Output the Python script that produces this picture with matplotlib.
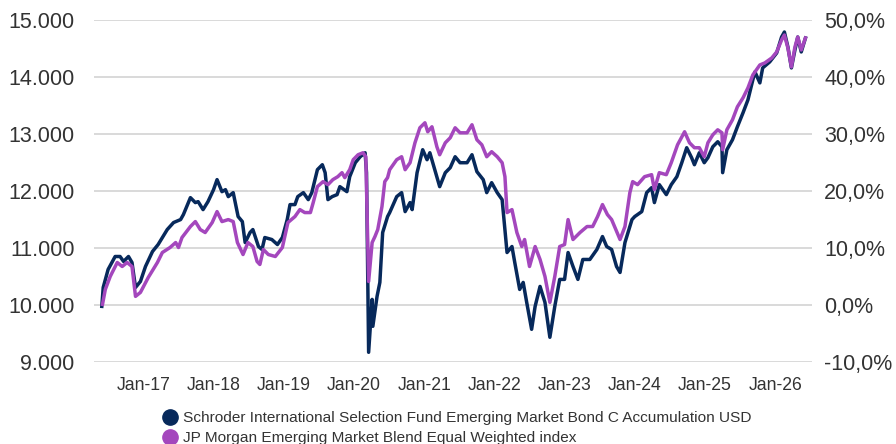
from datetime import datetime, timedelta

import matplotlib.pyplot as plt
import matplotlib.dates as mdates
from matplotlib.lines import Line2D
from matplotlib.ticker import FuncFormatter

# Schroder fund, growth of 10.000 (decimal years, values)
fund_t = [
    2016.41, 2016.43, 2016.50, 2016.60, 2016.67, 2016.72, 2016.79, 2016.84, 2016.89, 2016.96,
    2017.03, 2017.13, 2017.21, 2017.34, 2017.43, 2017.53, 2017.57, 2017.67, 2017.74, 2017.78,
    2017.85, 2017.92, 2018.00, 2018.05, 2018.12, 2018.17, 2018.21, 2018.28, 2018.35, 2018.41,
    2018.45, 2018.52, 2018.56, 2018.64, 2018.69, 2018.73, 2018.83, 2018.91, 2018.98, 2019.05,
    2019.09, 2019.16, 2019.20, 2019.28, 2019.35, 2019.40, 2019.48, 2019.55, 2019.59, 2019.63,
    2019.69, 2019.76, 2019.80, 2019.90, 2019.94, 2020.02, 2020.09, 2020.16, 2020.18, 2020.21,
    2020.26, 2020.27, 2020.33, 2020.37, 2020.41, 2020.48, 2020.51, 2020.61, 2020.68, 2020.73,
    2020.80, 2020.83, 2020.90, 2020.98, 2021.04, 2021.08, 2021.15, 2021.22, 2021.30, 2021.37,
    2021.44, 2021.51, 2021.61, 2021.68, 2021.75, 2021.84, 2021.89, 2021.96, 2022.04, 2022.11,
    2022.15, 2022.18, 2022.25, 2022.29, 2022.36, 2022.41, 2022.46, 2022.53, 2022.58, 2022.65,
    2022.72, 2022.79, 2022.86, 2022.93, 2023.00, 2023.05, 2023.12, 2023.19, 2023.26, 2023.36,
    2023.46, 2023.54, 2023.60, 2023.67, 2023.74, 2023.79, 2023.86, 2023.96, 2024.00, 2024.10,
    2024.17, 2024.24, 2024.28, 2024.35, 2024.45, 2024.52, 2024.60, 2024.67, 2024.74, 2024.81,
    2024.85, 2024.92, 2024.99, 2025.04, 2025.11, 2025.18, 2025.24, 2025.25, 2025.31, 2025.39,
    2025.46, 2025.54, 2025.61, 2025.68, 2025.71, 2025.78, 2025.82, 2025.92, 2026.02, 2026.09,
    2026.13, 2026.18, 2026.23, 2026.28, 2026.32, 2026.37, 2026.43,
]
fund_v = [
    9974, 10306, 10622, 10849, 10849, 10762, 10849, 10744, 10306, 10411,
    10674, 10937, 11059, 11322, 11445, 11497, 11585, 11882, 11795, 11812,
    11672, 11812, 12022, 12198, 11987, 12022, 11900, 11970, 11550, 11462,
    11094, 11270, 11322, 11024, 10972, 11182, 11147, 11059, 11182, 11497,
    11760, 11760, 11900, 11970, 11847, 11970, 12373, 12460, 12320, 11847,
    11900, 11935, 12075, 11987, 12250, 12495, 12600, 12670, 12320, 9168,
    10096, 9624, 10149, 10394, 11270, 11550, 11620, 11900, 11970, 11637,
    11795, 11672, 12320, 12723, 12548, 12670, 12373, 12075, 12320, 12408,
    12600, 12495, 12495, 12635, 12338, 12198, 11970, 12145, 11970, 11847,
    11322, 10919, 11024, 10744, 10271, 10394, 10044, 9571, 9974, 10324,
    10044, 9431, 9974, 10447, 10447, 10919, 10674, 10447, 10797, 10797,
    10972, 11199, 11024, 10972, 10674, 10569, 11094, 11497, 11550, 11637,
    11970, 12057, 11795, 12110, 11935, 12110, 12250, 12495, 12758, 12583,
    12460, 12670, 12495, 12583, 12775, 12863, 12775, 12320, 12723, 12898,
    13126, 13371, 13598, 13949, 14089, 13896, 14159, 14264, 14421, 14701,
    14789, 14526, 14159, 14474, 14701, 14439, 14684,
]

# JP Morgan EM Blend Equal Weighted index
index_t = [
    2016.42, 2016.46, 2016.53, 2016.63, 2016.70, 2016.77, 2016.84, 2016.89, 2016.96, 2017.07,
    2017.20, 2017.27, 2017.38, 2017.46, 2017.50, 2017.55, 2017.67, 2017.74, 2017.81, 2017.88,
    2017.98, 2018.05, 2018.12, 2018.21, 2018.28, 2018.34, 2018.42, 2018.49, 2018.56, 2018.62,
    2018.66, 2018.71, 2018.78, 2018.88, 2018.98, 2019.06, 2019.16, 2019.23, 2019.30, 2019.38,
    2019.42, 2019.48, 2019.56, 2019.63, 2019.70, 2019.77, 2019.83, 2019.87, 2019.94, 2019.99,
    2020.06, 2020.13, 2020.17, 2020.20, 2020.21, 2020.26, 2020.30, 2020.34, 2020.40, 2020.44,
    2020.48, 2020.51, 2020.61, 2020.68, 2020.73, 2020.80, 2020.87, 2020.94, 2021.01, 2021.05,
    2021.11, 2021.18, 2021.22, 2021.30, 2021.37, 2021.44, 2021.51, 2021.61, 2021.68, 2021.75,
    2021.82, 2021.89, 2021.96, 2022.04, 2022.11, 2022.15, 2022.18, 2022.25, 2022.32, 2022.39,
    2022.43, 2022.50, 2022.58, 2022.65, 2022.72, 2022.79, 2022.86, 2022.93, 2023.00, 2023.05,
    2023.12, 2023.22, 2023.32, 2023.40, 2023.47, 2023.54, 2023.61, 2023.67, 2023.79, 2023.86,
    2023.93, 2023.97, 2024.04, 2024.14, 2024.24, 2024.28, 2024.35, 2024.45, 2024.52, 2024.61,
    2024.71, 2024.78, 2024.85, 2024.92, 2024.99, 2025.04, 2025.11, 2025.18, 2025.24, 2025.25,
    2025.31, 2025.39, 2025.46, 2025.54, 2025.61, 2025.68, 2025.78, 2025.85, 2025.95, 2026.02,
    2026.09, 2026.13, 2026.18, 2026.23, 2026.28, 2026.32, 2026.37, 2026.43,
]
index_v = [
    10009, 10271, 10499, 10744, 10674, 10744, 10674, 10149, 10219, 10482,
    10744, 10919, 11007, 11094, 11007, 11182, 11375, 11462, 11322, 11270,
    11445, 11637, 11462, 11497, 11462, 11094, 10884, 11094, 11024, 10762,
    10709, 10972, 10884, 10849, 11007, 11445, 11550, 11672, 11620, 11620,
    11795, 12075, 12163, 12110, 12198, 12250, 12320, 12233, 12373, 12548,
    12635, 12670, 12600, 10919, 10411, 11094, 11199, 11322, 11725, 12163,
    12233, 12373, 12548, 12600, 12373, 12495, 12845, 13108, 13196, 13038,
    13126, 12775, 12635, 12845, 12933, 13108, 13020, 13020, 13161, 12898,
    12810, 12600, 12688, 12600, 12495, 12250, 11620, 11672, 11270, 11024,
    11147, 10674, 11024, 10797, 10499, 10044, 10499, 11024, 11059, 11497,
    11147, 11270, 11375, 11375, 11550, 11760, 11585, 11497, 11147, 11375,
    11970, 12163, 12110, 12250, 12285, 12022, 12320, 12285, 12495, 12810,
    13038, 12845, 12758, 12758, 12600, 12845, 12985, 13073, 13020, 12723,
    13073, 13248, 13476, 13633, 13808, 14036, 14211, 14246, 14334, 14439,
    14649, 14736, 14509, 14176, 14526, 14701, 14474, 14684,
]

fund_name = "Schroder International Selection Fund Emerging Market Bond C Accumulation USD"
index_name = "JP Morgan Emerging Market Blend Equal Weighted index"

NAVY = "#07295b"
PURPLE = "#a447bd"
TEXT = "#333333"


def to_date(t):
    y = int(t)
    return datetime(y, 1, 1) + timedelta(days=(t - y) * 365.25)


plt.rcParams["font.family"] = ["Liberation Sans", "DejaVu Sans"]

fig = plt.figure(figsize=(8.96, 4.44), dpi=100)
ax = fig.add_axes([0.105, 0.185, 0.801, 0.77])

ax.plot([to_date(t) for t in fund_t], fund_v, color=NAVY, lw=2.5, zorder=3)
ax.plot([to_date(t) for t in index_t], index_v, color=PURPLE, lw=2.5, zorder=4)

ax.set_ylim(9000, 15000)
ax.set_yticks(range(9000, 15001, 1000))
ax.yaxis.set_major_formatter(FuncFormatter(lambda v, p: f"{int(v):,}".replace(",", ".")))
ax.set_xlim(to_date(2016.30), to_date(2026.52))
ax.set_xticks([datetime(y, 1, 1) for y in range(2017, 2027)])
ax.xaxis.set_major_formatter(mdates.DateFormatter("Jan-%y"))

ax.grid(axis="y", color="#d9d9d9", lw=1.4, zorder=0)
ax.set_axisbelow(True)
for s in ax.spines.values():
    s.set_visible(False)
ax.tick_params(axis="both", length=0, colors=TEXT)
ax.tick_params(axis="y", labelsize=15.5, pad=14)
ax.tick_params(axis="x", labelsize=12.7, pad=11)

ax2 = ax.twinx()
ax2.set_ylim(-10, 50)
ax2.set_yticks(range(-10, 51, 10))
ax2.yaxis.set_major_formatter(FuncFormatter(lambda v, p: f"{v:.1f}%".replace(".", ",")))
for s in ax2.spines.values():
    s.set_visible(False)
ax2.tick_params(axis="y", length=0, colors=TEXT, labelsize=15.5, pad=9)

handles = [
    Line2D([], [], ls="none", marker="o", ms=11, color=NAVY),
    Line2D([], [], ls="none", marker="o", ms=11, color=PURPLE),
]
fig.legend(handles, [fund_name, index_name], loc="upper left",
           bbox_to_anchor=(0.172, 0.088), frameon=False, fontsize=11.1,
           handletextpad=0.25, labelspacing=0.38, borderaxespad=0, handlelength=1.2,
           labelcolor=TEXT)

fig.savefig("out.png", dpi=100)
